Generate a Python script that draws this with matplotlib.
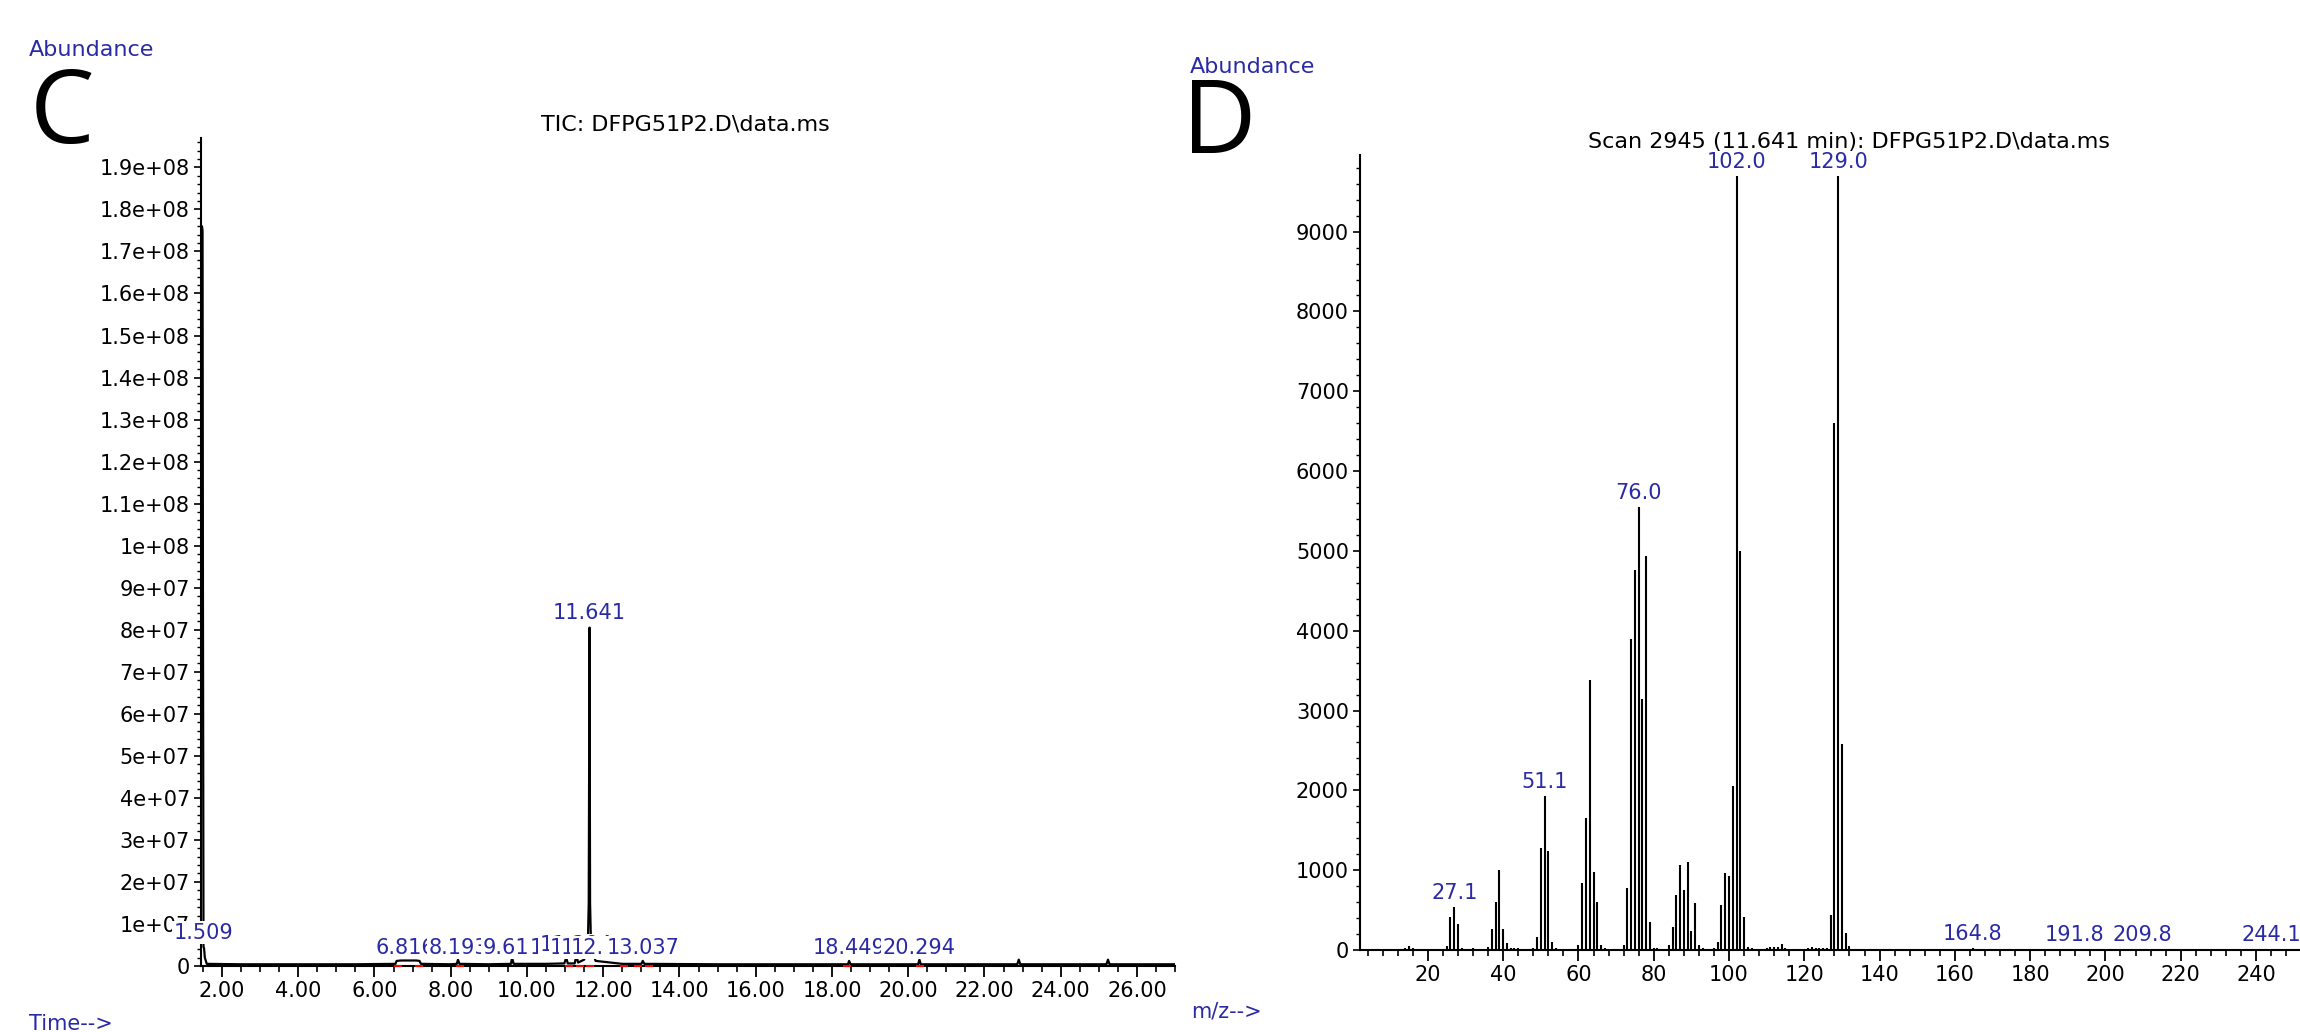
import matplotlib.pyplot as plt
from matplotlib.ticker import MultipleLocator, FuncFormatter

blue = '#2a2aa5'

# TIC chromatogram: retention time [min], abundance in units of 1e7
tic_time = [1.455, 1.46, 1.475, 1.49, 1.50, 1.515, 1.53, 1.55, 1.60, 2.5, 4.0, 5.5,
            6.55, 6.58, 6.70, 7.10, 7.18, 7.22, 8.0, 8.16, 8.19, 8.23,
            9.0, 9.58, 9.61, 9.65, 10.5, 10.98, 11.03, 11.07, 11.25, 11.30,
            11.34, 11.50, 11.58, 11.60, 11.62, 11.641, 11.655, 11.675, 11.70,
            11.80, 12.5, 13.0, 13.037, 13.08, 15.0, 18.42, 18.449, 18.49,
            20.26, 20.294, 20.33, 22.86, 22.90, 22.94, 25.20, 25.24, 25.28, 27.0]
tic_abund_e7 = [17.6, 17.6, 17.6, 17.5, 9.0, 0.45, 0.42, 0.2, 0.05, 0.04, 0.04, 0.04,
                0.05, 0.12, 0.13, 0.13, 0.12, 0.05, 0.04, 0.05, 0.15, 0.05,
                0.04, 0.05, 0.2, 0.05, 0.05, 0.06, 0.2, 0.06, 0.06, 0.25,
                0.08, 0.15, 0.5, 0.67, 1.5, 8.05, 1.5, 0.67, 0.4,
                0.12, 0.05, 0.05, 0.12, 0.05, 0.04, 0.04, 0.12, 0.04,
                0.04, 0.15, 0.04, 0.04, 0.15, 0.04, 0.04, 0.15, 0.04, 0.04]

# peak labels (drawn in this order, later boxes cover earlier ones)
tic_peak_time = [1.509, 6.816, 8.193, 9.614, 11.026, 11.294, 11.563, 11.831,
                 12.108, 11.641, 13.037, 18.449, 20.294]
tic_peak_e7 = [0.45, 0.1, 0.1, 0.1, 0.1, 0.16, 0.1, 0.1, 0.1, 8.05, 0.1, 0.1, 0.1]

# integration markers on the baseline
tic_event_time = [6.62, 7.18, 8.25, 11.1, 11.4, 11.66, 12.55, 12.9, 13.2, 18.4, 20.3]

# mass spectrum, scan 2945
mz = [13, 14, 15, 16, 25, 26, 27, 28, 29, 31, 32, 33,
      36, 37, 38, 39, 40, 41, 42, 43, 44,
      48, 49, 50, 51, 52, 53, 54,
      60, 61, 62, 63, 64, 65, 66, 67,
      72, 73, 74, 75, 76, 77, 78, 79, 80, 81,
      84, 85, 86, 87, 88, 89, 90, 91, 92, 93,
      96, 97, 98, 99, 100, 101, 102, 103, 104, 105,
      106, 107, 108, 109, 110, 111, 112, 113, 114, 115, 116, 117,
      121, 122, 123, 124, 125, 126,
      127, 128, 129, 130, 131, 132, 133,
      139, 140, 141, 144, 153, 163, 164.8, 166, 178, 190, 191.8, 209.8, 244.1]
abund = [15, 25, 45, 20, 45, 408, 538, 327, 20, 15, 20, 15,
         40, 260, 605, 996, 260, 88, 25, 25, 20,
         30, 167, 1276, 1924, 1234, 105, 22,
         65, 845, 1653, 3377, 971, 603, 65, 22,
         65, 775, 3900, 4760, 5545, 3140, 4940, 345, 22, 22,
         63, 282, 692, 1060, 757, 1097, 236, 585, 63, 20,
         20, 105, 565, 970, 930, 2050, 9700, 5000, 408, 40,
         25, 15, 15, 15, 20, 35, 35, 40, 75, 30, 15, 15,
         20, 35, 25, 25, 25, 25,
         435, 6600, 9700, 2578, 215, 45, 18,
         12, 15, 12, 10, 8, 15, 20, 15, 8, 12, 15, 5, 5]

ms_label_mz = [27, 51, 76, 102, 129, 164.8, 191.8, 209.8, 244.1]
ms_label_txt = ['27.1', '51.1', '76.0', '102.0', '129.0', '164.8', '191.8', '209.8', '244.1']

plt.rcParams['font.family'] = ['DejaVu Sans']

fig = plt.figure(figsize=(23, 10.32), dpi=100)


def style_axes(ax):
    for s in ['top', 'right']:
        ax.spines[s].set_visible(False)
    for s in ['left', 'bottom']:
        ax.spines[s].set_linewidth(1.5)
    ax.tick_params(axis='x', which='major', direction='out', length=8, width=1.3,
                   labelsize=15, pad=3)
    ax.tick_params(axis='x', which='minor', direction='out', length=4, width=1.2)
    ax.tick_params(axis='y', which='major', direction='out', length=5, width=1.2,
                   labelsize=15, pad=3)
    ax.tick_params(axis='y', which='minor', direction='out', length=3, width=1.0)


# ---- C: TIC ----
ax1 = fig.add_axes([0.0874, 0.0640, 0.4235, 0.8023])
style_axes(ax1)
ax1.plot(tic_time, [v * 1e7 for v in tic_abund_e7], color='black', linewidth=1.6)
ax1.plot(tic_event_time, [0] * len(tic_event_time), linestyle='none', marker='_',
         markersize=6, color='red', markeredgewidth=1.5, zorder=4, clip_on=False)
ax1.set_xlim(1.45, 27.0)
ax1.set_ylim(0, 1.97e8)
ax1.xaxis.set_major_locator(MultipleLocator(2))
ax1.xaxis.set_minor_locator(MultipleLocator(0.5))
ax1.xaxis.set_major_formatter(FuncFormatter(lambda v, p: '%.2f' % v))
ax1.yaxis.set_major_locator(MultipleLocator(1e7))
ax1.yaxis.set_minor_locator(MultipleLocator(2e6))
ax1.yaxis.set_major_formatter(FuncFormatter(lambda v, p: '0' if v == 0 else '%g' % v))

for t, h in zip(tic_peak_time, tic_peak_e7):
    ax1.annotate('%.3f' % t, (t, h * 1e7), xytext=(0, 3), textcoords='offset points',
                 ha='center', va='bottom', fontsize=15, color=blue, zorder=5,
                 annotation_clip=False,
                 bbox=dict(facecolor='white', edgecolor='none', pad=1))

fig.text(0.2978, 0.879, 'TIC: DFPG51P2.D\\data.ms', ha='center', va='center', fontsize=16)
fig.text(0.0126, 0.9516, 'Abundance', ha='left', va='center', fontsize=16, color=blue)
fig.text(0.0126, 0.008, 'Time-->', ha='left', va='center', fontsize=15, color=blue)
fig.text(0.013, 0.8614, 'C', ha='left', va='baseline', fontsize=74, family='Open Sans')

# ---- D: mass spectrum ----
ax2 = fig.add_axes([0.5913, 0.0795, 0.4087, 0.7703])
style_axes(ax2)
ax2.vlines(mz, 0, abund, color='black', linewidth=1.5)
ax2.set_xlim(1.96, 251.7)
ax2.set_ylim(0, 9960)
ax2.xaxis.set_major_locator(MultipleLocator(20))
ax2.xaxis.set_minor_locator(MultipleLocator(4))
ax2.yaxis.set_major_locator(MultipleLocator(1000))
ax2.yaxis.set_minor_locator(MultipleLocator(200))

height = dict(zip(mz, abund))
for m, txt in zip(ms_label_mz, ms_label_txt):
    ax2.annotate(txt, (m, height[m]), xytext=(0, 3), textcoords='offset points',
                 ha='center', va='bottom', fontsize=15, color=blue,
                 annotation_clip=False)

fig.text(0.804, 0.8624, 'Scan 2945 (11.641 min): DFPG51P2.D\\data.ms', ha='center',
         va='center', fontsize=16)
fig.text(0.5174, 0.935, 'Abundance', ha='left', va='center', fontsize=16, color=blue)
fig.text(0.5180, 0.0194, 'm/z-->', ha='left', va='center', fontsize=15, color=blue)
fig.text(0.5139, 0.8517, 'D', ha='left', va='baseline', fontsize=74, family='Open Sans')

fig.savefig('out.png', dpi=100)
plt.close(fig)
